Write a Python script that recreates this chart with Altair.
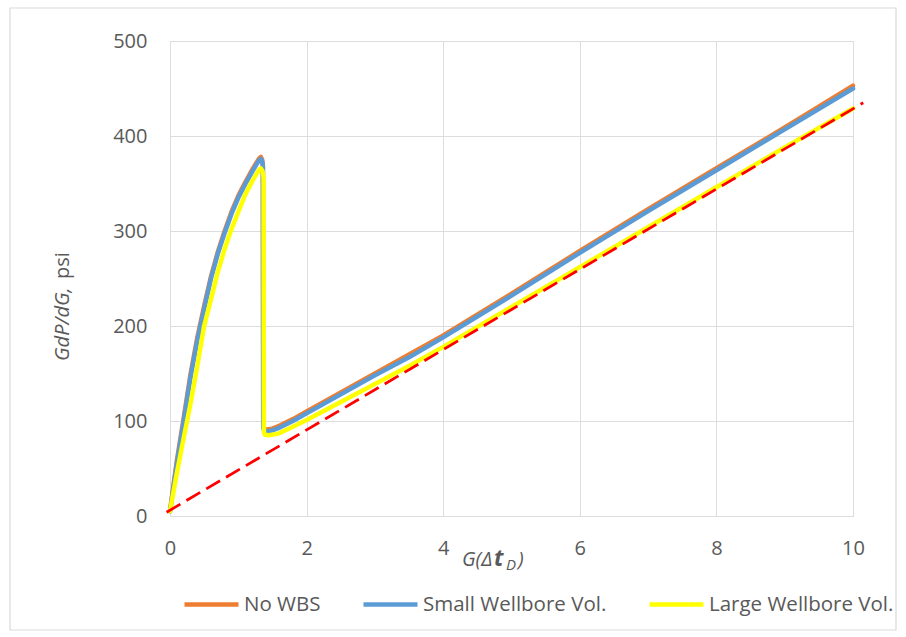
import altair as alt
import pandas as pd

# G-function derivative curves (x = G(Δt_D), y = G dP/dG in psi)
x_nowbs = [0, 0.05, 0.1, 0.2, 0.3, 0.4, 0.5, 0.6, 0.7, 0.8, 0.9, 1.0, 1.1, 1.2, 1.3, 1.33,
           1.35, 1.36, 1.365, 1.38, 1.42, 1.5, 1.6, 1.8, 2.0, 2.5, 3.0, 3.5, 4.0, 5.0, 6.0,
           7.0, 8.0, 9.0, 10.0]
y_nowbs = [5, 32, 58, 103, 149, 188, 221, 252, 278, 300, 320, 337, 351, 364, 376, 378,
           375, 370, 95, 91, 91, 92, 95, 102, 110, 130, 150, 170, 190, 234, 279,
           323, 366, 409, 453]

x_small = [0, 0.05, 0.1, 0.2, 0.3, 0.4, 0.5, 0.6, 0.7, 0.8, 0.9, 1.0, 1.1, 1.2, 1.3, 1.33,
           1.35, 1.36, 1.365, 1.38, 1.42, 1.5, 1.6, 1.8, 2.0, 2.5, 3.0, 3.5, 4.0, 5.0, 6.0,
           7.0, 8.0, 9.0, 10.0]
y_small = [5, 30, 55, 100, 146, 185, 218, 250, 276, 298, 318, 335, 349, 362, 374, 376,
           373, 368, 93, 89.5, 89, 90, 93, 100, 108, 128, 148, 167, 188, 232, 277,
           321, 364, 407, 450]

x_large = [0, 0.05, 0.1, 0.2, 0.3, 0.4, 0.5, 0.6, 0.7, 0.8, 0.9, 1.0, 1.1, 1.2, 1.3, 1.33,
           1.355, 1.37, 1.375, 1.39, 1.45, 1.6, 1.8, 2.0, 2.5, 3.0, 3.5, 4.0, 5.0, 6.0,
           7.0, 8.0, 9.0, 10.0]
y_large = [5, 25, 45, 82, 118, 158, 200, 228, 257, 281, 302, 320, 338, 352, 364, 366,
           363, 357, 88, 85.5, 85, 87, 94, 101, 120, 139, 158, 178, 220, 262,
           304, 346, 388, 429]

# straight reference line (dashed)
x_ref = [-0.05, 10.15]
y_ref = [4, 435]

series_names = ["No WBS", "Small Wellbore Vol.", "Large Wellbore Vol."]
series_colors = ["#ED7D31", "#5B9BD5", "#FFFF00"]

x_ticks = [0, 2, 4, 6, 8, 10]
y_ticks = [0, 100, 200, 300, 400, 500]

FONT = "Open Sans"
GREY = "#595959"

rows = []
for name, xs, ys in [(series_names[0], x_nowbs, y_nowbs),
                     (series_names[1], x_small, y_small),
                     (series_names[2], x_large, y_large)]:
    for i, (a, b) in enumerate(zip(xs, ys)):
        rows.append({"series": name, "G": a, "GdPdG": b, "i": i})
df = pd.DataFrame(rows)
ref_df = pd.DataFrame({"G": x_ref, "GdPdG": y_ref})

W, H = 683, 475

x_scale = alt.Scale(domain=[0, 10], nice=False, zero=False)
y_scale = alt.Scale(domain=[0, 500], nice=False)
color_scale = alt.Scale(domain=series_names, range=series_colors)

x_axis = alt.Axis(values=x_ticks, title=None, grid=True, domain=False, ticks=False,
                  tickSize=0, labelPadding=22, labelFontSize=20, labelFont=FONT,
                  labelColor=GREY, labelFlush=False)
y_axis = alt.Axis(values=y_ticks, title=None, grid=True, domain=False, ticks=False,
                  tickSize=0, labelPadding=23, labelFontSize=20, labelFont=FONT,
                  labelColor=GREY)

legend = alt.Legend(title=None, orient="none", direction="horizontal",
                    legendX=12, legendY=534, symbolType="stroke",
                    symbolStrokeWidth=4.5, symbolSize=2916,
                    labelFontSize=20.5, labelFont=FONT, labelLimit=400,
                    labelColor=GREY, labelOffset=3, columnPadding=33)


def series_line(name):
    return alt.Chart(df).transform_filter(
        alt.datum.series == name
    ).mark_line(strokeWidth=4.5, strokeJoin="round", strokeCap="round").encode(
        x=alt.X("G:Q", scale=x_scale, axis=x_axis),
        y=alt.Y("GdPdG:Q", scale=y_scale, axis=y_axis),
        color=alt.Color("series:N", scale=color_scale, legend=legend),
        order="i:Q",
    )


ref_line = alt.Chart(ref_df).mark_line(
    color="#FF0000", strokeWidth=2.75, strokeDash=[16, 7], clip=False
).encode(
    x=alt.X("G:Q", scale=x_scale, axis=x_axis),
    y=alt.Y("GdPdG:Q", scale=y_scale, axis=y_axis),
)

one = alt.Data(values=[{}])

frame = alt.Chart(one).mark_rect(filled=False, stroke="#D9D9D9", strokeWidth=1.2).encode(
    x=alt.value(-160), x2=alt.value(726), y=alt.value(-33), y2=alt.value(589)
)


def label(text, x, y, size=20, style="normal", weight="normal", angle=0, align="left",
          baseline="alphabetic"):
    return alt.Chart(one).mark_text(
        text=text, font=FONT, fontSize=size, fontStyle=style, fontWeight=weight,
        color=GREY, angle=angle, align=align, baseline=baseline
    ).encode(x=alt.value(x), y=alt.value(y))


# y-axis title: italic "GdP/dG," followed by upright "psi"
y_title = (label("GdP/dG,", 63 - 170, 361 - 41, style="italic", angle=270,
                 baseline="middle")
           + label("psi", 63 - 170, 279 - 41, angle=270, baseline="middle"))

# x-axis title: G(Δt_D) with a bold t and subscript D
x_title = (label("G(Δ", 462 - 170, 566 - 41, style="italic")
           + label("t", 494 - 170, 566 - 41, size=23, style="italic", weight="bold")
           + label("D", 506 - 170, 570 - 41, size=15, style="italic")
           + label(")", 518 - 170, 566 - 41, style="italic"))

chart = alt.layer(
    frame,
    series_line(series_names[0]),
    series_line(series_names[1]),
    series_line(series_names[2]),
    ref_line,
    y_title,
    x_title,
).properties(
    width=W, height=H,
    autosize=alt.AutoSizeParams(type="none"),
    padding={"left": 170, "top": 41, "right": 53, "bottom": 121},
).configure_view(
    stroke=None
).configure_axis(
    gridColor="#D9D9D9", gridWidth=1.5
).configure(background="white")

chart.save("out.html", embed_options={"renderer": "svg", "actions": False})
